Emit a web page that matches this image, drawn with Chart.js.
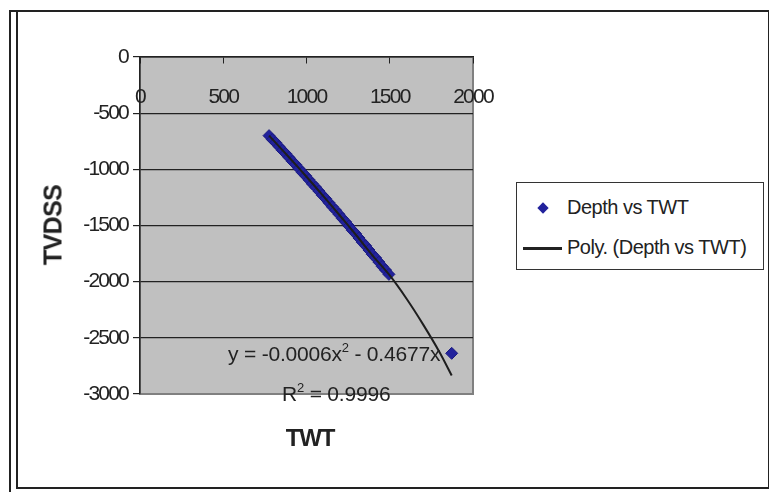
<!DOCTYPE html>
<html>
<head>
<meta charset="utf-8">
<script src="https://cdn.jsdelivr.net/npm/chart.js@4/dist/chart.umd.min.js"></script>
<style>
  body { margin: 0; background: #fff; }
  #wrap { position: relative; width: 769px; height: 492px; overflow: hidden;
          font-family: 'Liberation Sans', Arial, sans-serif; color: #222; }
  #outer { position: absolute; left: 9px; top: 10px; width: 770px; height: 490px;
           border-left: 2px solid #222; border-top: 2px solid #222; }
  #inner { position: absolute; left: 16px; top: 10px; width: 750px; height: 475px;
           border: 2px solid #222; }
  canvas { position: absolute; left: 0; top: 0; }
  .txt { position: absolute; white-space: nowrap; font-size: 21px; }
  .bold { font-weight: bold; font-size: 24px; letter-spacing: -1.2px; }
  #legend { position: absolute; left: 516px; top: 182px; width: 246px; height: 86px;
            border: 1px solid #333; background: #fff; }
  #legend .txt { font-size: 20px; letter-spacing: -0.5px; }
  .dia { position: absolute; width: 8px; height: 8px; background: #22229c; transform: rotate(45deg); }
  .lline { position: absolute; height: 3px; background: #222; }
  sup { font-size: 13px; vertical-align: 0; position: relative; top: -9px; }
</style>
</head>
<body>
<div id="wrap">
  <div id="outer"></div>
  <div id="inner"></div>
  <canvas id="chart" width="769" height="492"></canvas>

  <div class="txt bold" style="left:53px; top:225px; font-size:25px; letter-spacing:-0.6px; transform: translate(-50%,-50%) rotate(-90deg);">TVDSS</div>
  <div class="txt bold" style="left:310px; top:438px; transform: translate(-50%,-50%);">TWT</div>
  <div class="txt" style="left:228px; top:342px; letter-spacing:-0.2px;">y = -0.0006x<sup>2</sup> - 0.4677x</div>
  <div class="txt" style="left:282px; top:382px; letter-spacing:-0.2px;">R<sup>2</sup> = 0.9996</div>

  <div id="legend">
    <div class="dia" style="left:22px; top:21px;"></div>
    <div class="txt" style="left:50px; top:13px;">Depth vs TWT</div>
    <div class="lline" style="left:6px; top:64px; width:39px;"></div>
    <div class="txt" style="left:50px; top:53px;">Poly. (Depth vs TWT)</div>
  </div>
</div>

<script>
// 측정값 (TWT, TVDSS)
const twt = [775, 795, 815, 835, 855, 875, 895, 915, 935, 955, 975, 995, 1015, 1035, 1055, 1075, 1095,
  1115, 1135, 1155, 1175, 1195, 1215, 1235, 1255, 1275, 1295, 1315, 1335, 1355, 1375, 1395, 1415,
  1435, 1455, 1475, 1495, 1872];
const depth = [-700, -735, -762, -797, -831, -860, -894, -929, -958, -993, -1028, -1058, -1093, -1129,
  -1159, -1194, -1230, -1261, -1297, -1333, -1364, -1400, -1437, -1468, -1505, -1542, -1573, -1611,
  -1648, -1680, -1718, -1756, -1788, -1826, -1864, -1897, -1935, -2638];

// 다항 추세선 (그림에서 읽은 점)
const trendX = [775, 900, 1000, 1100, 1200, 1300, 1400, 1500, 1600, 1700, 1800, 1872];
const trendY = [-700, -901, -1066, -1236, -1411, -1589, -1772, -1945, -2150, -2380, -2630, -2835];

const xTicks = [0, 500, 1000, 1500, 2000];
const yTicks = [0, -500, -1000, -1500, -2000, -2500, -3000];

const FONT = "'Liberation Sans', Arial, sans-serif";

// 엑셀처럼 좁은 글자 간격
const tightText = {
  id: 'tightText',
  beforeDraw(chart) { chart.ctx.letterSpacing = '-1.8px'; }
};

// 플롯 영역 배경 + 테두리
const plotBg = {
  id: 'plotBg',
  beforeDraw(chart) {
    const { ctx, chartArea: a } = chart;
    ctx.save();
    ctx.fillStyle = '#c0c0c0';
    ctx.fillRect(a.left, a.top, a.right - a.left, a.bottom - a.top);
    ctx.strokeStyle = '#808080';
    ctx.lineWidth = 2;
    ctx.strokeRect(a.left, a.top, a.right - a.left, a.bottom - a.top);
    ctx.restore();
  }
};

const ctx = document.getElementById('chart').getContext('2d');

new Chart(ctx, {
  type: 'scatter',
  data: {
    datasets: [
      {
        label: 'Poly. (Depth vs TWT)',
        type: 'line',
        data: trendX.map((x, i) => ({ x, y: trendY[i] })),
        borderColor: '#1e1e1e',
        borderWidth: 2,
        pointRadius: 0,
        tension: 0.3,
        fill: false,
        order: 0
      },
      {
        label: 'Depth vs TWT',
        data: twt.map((x, i) => ({ x, y: depth[i] })),
        pointStyle: 'rectRot',
        pointRadius: 6,
        backgroundColor: '#22229c',
        borderColor: '#1a1a80',
        borderWidth: 1,
        order: 1
      }
    ]
  },
  options: {
    responsive: false,
    animation: false,
    layout: { padding: { left: 30, right: 296, top: 57, bottom: 98 } },
    plugins: { legend: { display: false }, tooltip: { enabled: false } },
    scales: {
      x: {
        type: 'linear',
        position: { y: 0 },
        min: 0, max: 2000,
        afterBuildTicks: s => { s.ticks = xTicks.map(v => ({ value: v })); },
        ticks: { color: '#222', font: { family: FONT, size: 21 }, padding: 22, maxRotation: 0,
                 callback: v => String(v) },
        grid: { drawOnChartArea: false, drawTicks: true, tickLength: 6, color: '#222' },
        border: { display: true, color: '#222', width: 1.5 }
      },
      y: {
        type: 'linear',
        position: 'left',
        min: -3000, max: 0,
        afterBuildTicks: s => { s.ticks = yTicks.map(v => ({ value: v })); },
        afterFit: s => { s.width = 110; },
        ticks: { color: '#222', font: { family: FONT, size: 21 }, padding: 5,
                 callback: v => String(v) },
        grid: {
          color: c => (c.tick && (c.tick.value === -3000 || c.tick.value === 0)) ? 'rgba(0,0,0,0)' : '#222',
          tickColor: '#222',
          tickLength: 7,
          lineWidth: 1.2
        },
        border: { display: true, color: '#222', width: 1.5 }
      }
    }
  },
  plugins: [plotBg, tightText]
});
</script>
</body>
</html>
